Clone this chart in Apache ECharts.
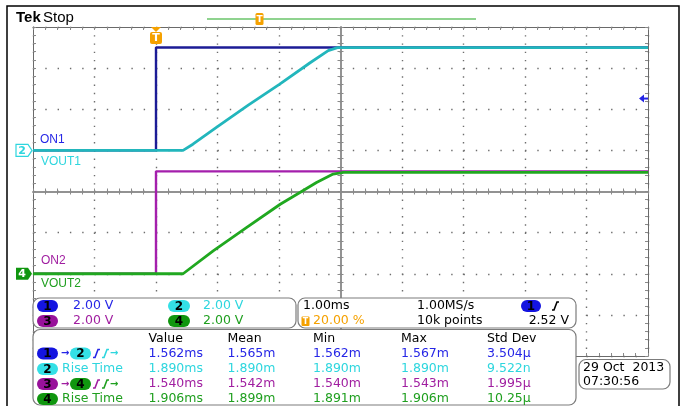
<!DOCTYPE html>
<html>
<head>
<meta charset="utf-8">
<script src="https://cdn.jsdelivr.net/npm/echarts@6/dist/echarts.min.js"></script>
<style>
  html, body { margin: 0; padding: 0; background: #fff; }
  #scope { width: 682px; height: 406px; }
</style>
</head>
<body>
<div id="scope"></div>
<script>
// waveforms: time in ms (trigger at 0), level in volts
var on1Time   = [-2, 0, 0, 8];
var on1Volt   = [0, 0, 5.0, 5.0];
var vout1Time = [-2, 0.44, 0.6, 1.0, 1.5, 2.0, 2.5, 2.8, 2.95, 8];
var vout1Volt = [0, 0, 0.3, 1.15, 2.2, 3.2, 4.25, 4.85, 5.0, 5.0];
var on2Time   = [-2, 0, 0, 8];
var on2Volt   = [0, 0, 4.98, 4.98];
var vout2Time = [-2, 0.44, 0.93, 1.47, 2.02, 2.34, 2.61, 2.88, 3.05, 8];
var vout2Volt = [0, 0, 1.11, 2.24, 3.38, 3.95, 4.44, 4.85, 4.93, 4.93];

var voltsPerDiv = 2.0;
var ch12Offset = 1;    // divisions from screen centre
var ch34Offset = -2;
var trigLevel = 2.52;

// readouts
var chScale = ['2.00 V', '2.00 V', '2.00 V', '2.00 V'];
var timeRead = ['1.00ms', '1.00MS/s', '20.00 %', '10k points', '2.52 V'];
var measHead = ['Value', 'Mean', 'Min', 'Max', 'Std Dev'];
var measRow1 = ['1.562ms', '1.565m', '1.562m', '1.567m', '3.504\u00b5'];
var measRow2 = ['1.890ms', '1.890m', '1.890m', '1.890m', '9.522n'];
var measRow3 = ['1.540ms', '1.542m', '1.540m', '1.543m', '1.995\u00b5'];
var measRow4 = ['1.906ms', '1.899m', '1.891m', '1.906m', '10.25\u00b5'];
var dateRead = ['29 Oct  2013', '07:30:56'];

var C1 = '#2626e6', C2 = '#2ed6de', C3 = '#a01ea0', C4 = '#1f9f1f', ORANGE = '#f5a100';
var B1 = '#1414e0', B2 = '#34e0e6', B3 = '#98119a', B4 = '#10960f';
var FONT = '12.5px "DejaVu Sans"';

function trace(times, volts, offset) {
  return times.map(function (t, i) { return [t, offset + volts[i] / voltsPerDiv]; });
}

var tickStyle = { color: '#8a8a8a', width: 1 };
function centerAxis(inside, zeroIdx, pos) {
  return {
    type: 'value', min: pos === 'left' ? -4 : -5, max: pos === 'left' ? 4 : 5, interval: 1, position: pos,
    axisLine: { onZero: true, onZeroAxisIndex: zeroIdx, lineStyle: { color: '#8c8c8c', width: 1.5 } },
    axisTick: { show: true, inside: inside, length: 3, lineStyle: tickStyle },
    minorTick: { show: true, splitNumber: 5, length: 3, lineStyle: tickStyle },
    axisLabel: { show: false }, splitLine: { show: false }
  };
}
function edgeAxis(pos, isX) {
  return {
    type: 'value', min: isX ? -5 : -4, max: isX ? 5 : 4, interval: 1, position: pos,
    axisLine: { onZero: false, lineStyle: { color: '#6a6a6a', width: 1 } },
    axisTick: { show: true, inside: true, length: 3, lineStyle: tickStyle },
    minorTick: { show: true, splitNumber: 5, length: 3, lineStyle: tickStyle },
    axisLabel: { show: false }, splitLine: { show: false }
  };
}

var chart = echarts.init(document.getElementById('scope'));
chart.setOption({
  animation: false,
  grid: { left: 33, top: 27, width: 615, height: 329 },
  xAxis: [
    { type: 'value', min: -2, max: 8, interval: 1, position: 'bottom',
      axisLine: { show: false }, axisTick: { show: false }, axisLabel: { show: false },
      splitLine: { show: true, lineStyle: { color: '#6e6e6e', width: 1.4, type: [1.4, 6.82] } } },
    centerAxis(true, 0, 'bottom'), centerAxis(false, 0, 'bottom'),
    edgeAxis('top', true), edgeAxis('bottom', true)
  ],
  yAxis: [
    { type: 'value', min: -4, max: 4, interval: 1, position: 'left',
      axisLine: { show: false }, axisTick: { show: false }, axisLabel: { show: false },
      splitLine: { show: true, lineStyle: { color: '#6e6e6e', width: 1.4, type: [1.4, 10.9] } } },
    centerAxis(true, 1, 'left'), centerAxis(false, 1, 'left'),
    edgeAxis('left', false), edgeAxis('right', false)
  ],
  series: [
    { name: 'ON1', type: 'line', data: trace(on1Time, on1Volt, ch12Offset), showSymbol: false,
      lineStyle: { color: '#1c1c96', width: 2.4 } },
    { name: 'VOUT1', type: 'line', data: trace(vout1Time, vout1Volt, ch12Offset), showSymbol: false,
      lineStyle: { color: '#22b6bc', width: 2.8 } },
    { name: 'ON2', type: 'line', data: trace(on2Time, on2Volt, ch34Offset), showSymbol: false,
      lineStyle: { color: '#a41fac', width: 2.4 } },
    { name: 'VOUT2', type: 'line', data: trace(vout2Time, vout2Volt, ch34Offset), showSymbol: false,
      lineStyle: { color: '#20a820', width: 2.8 } }
  ]
});

// ---- overlay text and markers ----
function txt(x, y, s, color, align, font) {
  return { type: 'text', z: 30, style: { text: s, x: x, y: y, fill: color, font: font || FONT,
    textAlign: align || 'left', textVerticalAlign: 'middle' } };
}
function badge(x, y, w, fill, label) {
  return { type: 'group', children: [
    { type: 'rect', z: 25, shape: { x: x, y: y - 6, width: w, height: 12, r: 6 }, style: { fill: fill } },
    txt(x + w / 2, y + 0.5, label, '#000', 'center', 'bold 12px "DejaVu Sans"')
  ] };
}
function box(x, y, w, h) {
  return { type: 'rect', z: 15, shape: { x: x, y: y, width: w, height: h, r: 7 },
    style: { fill: '#fff', stroke: '#7c7c7c', lineWidth: 1.2 } };
}
function edgeSym(x, y, color) {
  return { type: 'polyline', z: 25, shape: { points: [[x, y + 4], [x + 2, y + 4], [x + 5, y - 4], [x + 7, y - 4]] },
    style: { stroke: color, lineWidth: 1.6, fill: null } };
}
function arrow(x, y, color) {
  return txt(x, y, '\u2192', color, 'left', 'bold 10px "DejaVu Sans"');
}

var trigPx = chart.convertToPixel({ xAxisIndex: 0, yAxisIndex: 0 }, [0, ch12Offset + trigLevel / voltsPerDiv]);
var gnd12 = chart.convertToPixel({ xAxisIndex: 0, yAxisIndex: 0 }, [0, ch12Offset])[1];
var gnd34 = chart.convertToPixel({ xAxisIndex: 0, yAxisIndex: 0 }, [0, ch34Offset])[1];
var tx = trigPx[0], plotRight = 648;

var g = [];
// outer frame
g.push({ type: 'polyline', z: 20, shape: { points: [[7, 406], [7, 6], [679, 6], [679, 406]] },
  style: { stroke: '#000', lineWidth: 1.5, fill: null } });
g.push(txt(16, 18, 'Tek', '#000', 'left', 'bold 15px "Liberation Sans"'));
g.push(txt(43, 18, 'Stop', '#000', 'left', '15px "Liberation Sans"'));
// record view bar
g.push({ type: 'line', z: 20, shape: { x1: 207, y1: 19, x2: 476, y2: 19 }, style: { stroke: '#8fd38f', lineWidth: 2 } });
g.push({ type: 'rect', z: 25, shape: { x: 255.5, y: 13, width: 8, height: 12, r: 1.5 }, style: { fill: ORANGE } });
g.push(txt(259.5, 19.5, 'T', '#fff', 'center', 'bold 9px "DejaVu Sans"'));
// trigger position marker
g.push({ type: 'polygon', z: 25, shape: { points: [[tx - 5, 27], [tx + 5, 27], [tx, 32]] }, style: { fill: ORANGE } });
g.push({ type: 'rect', z: 25, shape: { x: tx - 6, y: 32, width: 12, height: 12, r: 2 }, style: { fill: ORANGE } });
g.push(txt(tx, 38.5, 'T', '#fff', 'center', 'bold 11px "DejaVu Sans"'));
// trigger level arrow
var ty = trigPx[1];
g.push({ type: 'polygon', z: 25, shape: { points: [[plotRight - 9, ty], [plotRight - 4, ty - 4], [plotRight - 4, ty + 4]] }, style: { fill: C1 } });
g.push({ type: 'line', z: 25, shape: { x1: plotRight - 5, y1: ty, x2: plotRight, y2: ty }, style: { stroke: C1, lineWidth: 2 } });
// ground markers
g.push({ type: 'polygon', z: 25, shape: { points: [[16, gnd12 - 6], [28, gnd12 - 6], [32, gnd12], [28, gnd12 + 6], [16, gnd12 + 6]] },
  style: { fill: '#fff', stroke: C2, lineWidth: 1.2 } });
g.push(txt(22, gnd12 + 0.5, '2', C2, 'center', 'bold 11px "DejaVu Sans"'));
g.push({ type: 'polygon', z: 25, shape: { points: [[16, gnd34 - 6], [28, gnd34 - 6], [32, gnd34], [28, gnd34 + 6], [16, gnd34 + 6]] },
  style: { fill: B4 } });
g.push(txt(22, gnd34 + 0.5, '4', '#fff', 'center', 'bold 11px "DejaVu Sans"'));
// channel labels
g.push(txt(40, 140, 'ON1', C1, 'left', '12px "Liberation Sans"'));
g.push(txt(41, 162, 'VOUT1', C2, 'left', '12px "Liberation Sans"'));
g.push(txt(41, 260.5, 'ON2', C3, 'left', '12px "Liberation Sans"'));
g.push(txt(41, 284, 'VOUT2', C4, 'left', '12px "Liberation Sans"'));

// readout boxes
g.push(box(33, 298, 263, 30));
g.push(box(298, 298, 278, 30));
g.push(box(33, 329.5, 543, 75.5));
g.push(box(579, 359.5, 91, 29.5));

// vertical scales
var r1 = 306, r2 = 321;
g.push(badge(37, r1, 21, B1, '1')); g.push(txt(73, r1, chScale[0], C1));
g.push(badge(168, r1, 22, B2, '2')); g.push(txt(203, r1, chScale[1], C2));
g.push(badge(37, r2, 21, B3, '3')); g.push(txt(73, r2, chScale[2], C3));
g.push(badge(168, r2, 22, B4, '4')); g.push(txt(203, r2, chScale[3], C4));
// timebase / trigger
g.push(txt(303, r1, timeRead[0], '#000'));
g.push(txt(417, r1, timeRead[1], '#000'));
g.push(badge(521, r1, 20, B1, '1'));
g.push(edgeSym(552, r1, '#000'));
g.push({ type: 'rect', z: 25, shape: { x: 301.5, y: r2 - 4.5, width: 8, height: 9.5, r: 1 }, style: { fill: ORANGE } });
g.push(txt(305.5, r2 + 0.5, 'T', '#fff', 'center', 'bold 8px "DejaVu Sans"'));
g.push(txt(313, r2, timeRead[2], ORANGE));
g.push(txt(417, r2, timeRead[3], '#000'));
g.push(txt(569, r2, timeRead[4], '#000', 'right'));

// measurements
var colX = [148.5, 227.5, 313, 401, 487];
var rowY = [353.5, 369, 384, 399];
var rows = [measRow1, measRow2, measRow3, measRow4];
var rowColor = [C1, C2, C3, C4];
measHead.forEach(function (h, i) { g.push(txt(colX[i], 339, h, '#000')); });
rows.forEach(function (row, r) {
  row.forEach(function (v, i) { g.push(txt(colX[i], rowY[r], v, rowColor[r])); });
});
// row labels
g.push(badge(37, rowY[0], 21, B1, '1')); g.push(arrow(61, rowY[0], C1));
g.push(badge(70, rowY[0], 21, B2, '2'));
g.push(edgeSym(93, rowY[0], C1)); g.push(edgeSym(102, rowY[0], C2)); g.push(arrow(110, rowY[0], C2));
g.push(badge(37, rowY[1], 21, B2, '2')); g.push(txt(62, rowY[1], 'Rise Time', C2));
g.push(badge(37, rowY[2], 21, B3, '3')); g.push(arrow(61, rowY[2], C3));
g.push(badge(70, rowY[2], 21, B4, '4'));
g.push(edgeSym(93, rowY[2], C3)); g.push(edgeSym(102, rowY[2], C4)); g.push(arrow(110, rowY[2], C4));
g.push(badge(37, rowY[3], 21, B4, '4')); g.push(txt(62, rowY[3], 'Rise Time', C4));

// date
g.push(txt(583, 367.5, dateRead[0], '#000'));
g.push(txt(583, 382, dateRead[1], '#000'));

chart.setOption({ graphic: { elements: g } });
</script>
</body>
</html>
